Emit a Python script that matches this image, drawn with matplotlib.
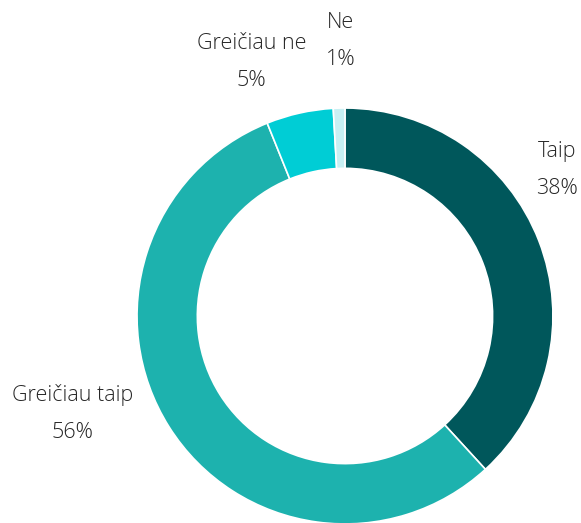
import matplotlib.pyplot as plt

labels = ["Taip", "Greičiau taip", "Greičiau ne", "Ne"]
values = [38.2, 55.7, 5.2, 0.9]
pct_labels = ["38%", "56%", "5%", "1%"]
colors = ["#00575B", "#1DB2AE", "#00CDD5", "#C8F0F3"]

# label anchor points, in units of the outer radius
label_pos = [(1.02, 0.70), (-1.31, -0.47), (-0.45, 1.22), (-0.02, 1.32)]

fig = plt.figure(figsize=(5.81, 5.23), dpi=100)
ax = fig.add_axes([0, 0, 1, 1])

ax.pie(values, colors=colors, startangle=90, counterclock=False,
       radius=1.0, wedgeprops=dict(width=0.29, edgecolor="white", linewidth=1.2))

for lab, pct, (x, y) in zip(labels, pct_labels, label_pos):
    ax.text(x, y, lab + "\n" + pct, ha="center", va="center",
            fontsize=15.5, color="#262626", family="Open Sans",
            fontweight="light", linespacing=2.0)

ax.set_xlim(-1.659, 1.135)
ax.set_ylim(-0.995, 1.519)
ax.set_aspect("equal")
ax.axis("off")

fig.savefig("out.png", dpi=100)
